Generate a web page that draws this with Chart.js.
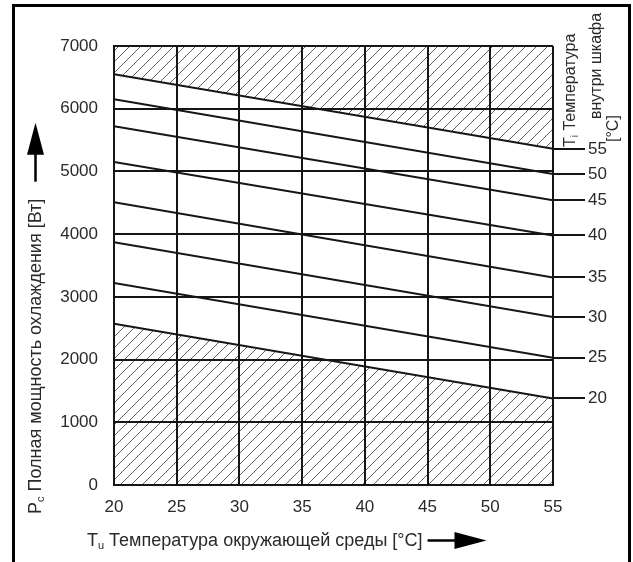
<!DOCTYPE html>
<html>
<head>
<meta charset="utf-8">
<script src="https://cdn.jsdelivr.net/npm/chart.js@4.4.0/dist/chart.umd.min.js"></script>
<style>
  html, body { margin: 0; padding: 0; background: #fff; }
  #wrap { width: 633px; height: 562px; }
</style>
</head>
<body>
<div id="wrap"><canvas id="coolingChart" width="633" height="562"></canvas></div>
<script>
// Ambient temperature Tu, °C (x axis ticks)
const ambientTicks = [20, 25, 30, 35, 40, 45, 50, 55];
// Cooling power Pc, W (y axis ticks)
const powerTicks = [0, 1000, 2000, 3000, 4000, 5000, 6000, 7000];
// Cabinet inside temperature Ti of each curve, °C
const insideTemps = [55, 50, 45, 40, 35, 30, 25, 20];
// Cooling power of each curve at Tu = 20 °C and at Tu = 55 °C
const powerAt20 = [6550, 6150, 5720, 5150, 4510, 3870, 3220, 2570];
const powerAt55 = [5360, 4960, 4540, 3980, 3310, 2680, 2030, 1380];

const FONT = "'Liberation Sans', Arial, sans-serif";
const INK = '#2a2a2a';
const LINE = '#151515';

Chart.defaults.font.family = FONT;
Chart.defaults.font.size = 17;
Chart.defaults.color = INK;

// diagonal hatching for the out-of-range zones
function makeHatch() {
  const size = 11;
  const c = document.createElement('canvas');
  c.width = size;
  c.height = size;
  const g = c.getContext('2d');
  g.strokeStyle = '#3a3a3a';
  g.lineWidth = 0.8;
  g.beginPath();
  g.moveTo(-1, size + 1); g.lineTo(size + 1, -1);
  g.moveTo(-1, 1); g.lineTo(1, -1);
  g.moveTo(size - 1, size + 1); g.lineTo(size + 1, size - 1);
  g.stroke();
  return g.createPattern(c, 'repeat');
}
const hatch = makeHatch();

const last = insideTemps.length - 1;
const datasets = insideTemps.map((t, i) => ({
  label: 'Ti ' + t,
  data: [{ x: 20, y: powerAt20[i] }, { x: 55, y: powerAt55[i] }],
  borderColor: LINE,
  borderWidth: 2,
  pointRadius: 0,
  tension: 0,
  fill: i === 0 ? 'end' : (i === last ? 'start' : false),
  backgroundColor: hatch
}));

// text made of runs, some of them subscripts
function drawRuns(ctx, runs, size) {
  let x = 0;
  runs.forEach(r => {
    ctx.font = (r.sub ? Math.round(size * 0.62) : size) + 'px ' + FONT;
    ctx.fillText(r.t, x, r.sub ? size * 0.18 : 0);
    x += ctx.measureText(r.t).width;
  });
  return x;
}

function arrowAfter(ctx, w) {
  ctx.lineWidth = 2.5;
  ctx.beginPath();
  ctx.moveTo(w + 5, -5.5);
  ctx.lineTo(w + 34, -5.5);
  ctx.stroke();
  ctx.fillStyle = '#000';
  ctx.beginPath();
  ctx.moveTo(w + 32, -14);
  ctx.lineTo(w + 64, -5.5);
  ctx.lineTo(w + 32, 3);
  ctx.closePath();
  ctx.fill();
}

const captions = {
  id: 'captions',
  afterDraw(chart) {
    const ctx = chart.ctx;
    ctx.save();
    ctx.fillStyle = INK;
    ctx.strokeStyle = '#000';
    ctx.textBaseline = 'alphabetic';
    ctx.textAlign = 'left';

    // outer frame
    ctx.lineWidth = 3;
    ctx.beginPath();
    ctx.moveTo(13.5, 600);
    ctx.lineTo(13.5, 5.5);
    ctx.lineTo(629.5, 5.5);
    ctx.lineTo(629.5, 600);
    ctx.stroke();

    // y axis title with arrow
    const yRuns = [{ t: 'P' }, { t: 'c', sub: true }, { t: ' Полная мощность охлаждения [Вт]' }];
    ctx.save();
    ctx.translate(41, 514);
    ctx.rotate(-Math.PI / 2);
    const yw = drawRuns(ctx, yRuns, 18);
    ctx.translate(12, 0);
    arrowAfter(ctx, yw);
    ctx.restore();

    // x axis title with arrow
    const xRuns = [{ t: 'T' }, { t: 'u', sub: true }, { t: ' Температура окружающей среды [°C]' }];
    ctx.save();
    ctx.translate(87, 546);
    const xw = drawRuns(ctx, xRuns, 18);
    arrowAfter(ctx, xw);
    ctx.restore();

    // right title: inside temperature
    const rLines = [
      { runs: [{ t: 'T' }, { t: 'i', sub: true }, { t: ' Температура' }], x: 575, y: 147 },
      { runs: [{ t: 'внутри шкафа' }], x: 601, y: 119 },
      { runs: [{ t: '[°C]' }], x: 618, y: 142 }
    ];
    rLines.forEach(l => {
      ctx.save();
      ctx.translate(l.x, l.y);
      ctx.rotate(-Math.PI / 2);
      drawRuns(ctx, l.runs, 16);
      ctx.restore();
    });

    ctx.restore();
  }
};

new Chart(document.getElementById('coolingChart'), {
  type: 'line',
  data: { datasets },
  options: {
    responsive: false,
    animation: false,
    layout: { padding: { top: 46, left: 0, right: 0, bottom: 0 } },
    plugins: {
      legend: { display: false },
      tooltip: { enabled: false },
      filler: { drawTime: 'beforeDraw' }
    },
    scales: {
      x: {
        type: 'linear',
        min: ambientTicks[0],
        max: ambientTicks[ambientTicks.length - 1],
        afterBuildTicks: (scale) => { scale.ticks = ambientTicks.map(v => ({ value: v })); },
        afterFit: (scale) => { scale.height = 77; },
        ticks: { padding: 12, autoSkip: false, maxRotation: 0, color: INK, callback: (v) => String(v) },
        grid: { color: LINE, lineWidth: 2, drawTicks: false },
        border: { color: LINE, width: 2 }
      },
      y: {
        type: 'linear',
        position: 'left',
        min: powerTicks[0],
        max: powerTicks[powerTicks.length - 1],
        afterBuildTicks: (scale) => { scale.ticks = powerTicks.map(v => ({ value: v })); },
        afterFit: (scale) => { scale.width = 114; },
        ticks: { padding: 16, color: INK, callback: (v) => String(v) },
        grid: { color: LINE, lineWidth: 2, drawTicks: false },
        border: { color: LINE, width: 2 }
      },
      ti: {
        type: 'linear',
        position: 'right',
        min: powerTicks[0],
        max: powerTicks[powerTicks.length - 1],
        afterBuildTicks: (scale) => { scale.ticks = powerAt55.map(v => ({ value: v })); },
        afterFit: (scale) => { scale.width = 80; },
        ticks: {
          padding: 3,
          autoSkip: false,
          color: INK,
          callback: (value, index) => String(insideTemps[index])
        },
        grid: { drawOnChartArea: false, drawTicks: true, tickLength: 32, color: LINE, lineWidth: 2 },
        border: { display: false }
      }
    }
  },
  plugins: [captions]
});
</script>
</body>
</html>
